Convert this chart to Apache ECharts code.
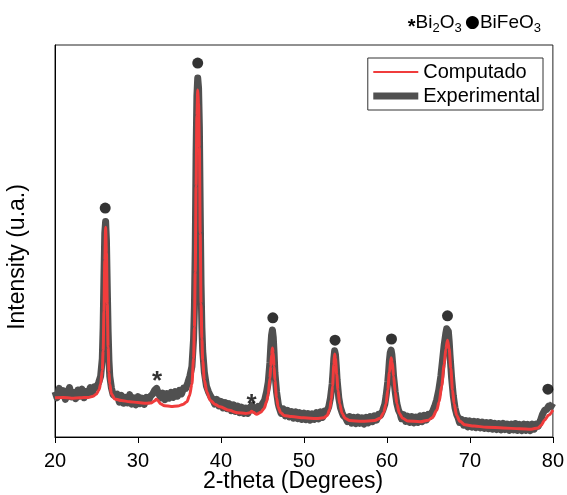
<!DOCTYPE html>
<html>
<head>
<meta charset="utf-8">
<script src="https://cdn.jsdelivr.net/npm/echarts@6/dist/echarts.min.js"></script>
<style>html,body{margin:0;padding:0;background:#fff}#c{width:567px;height:495px}</style>
</head>
<body>
<div id="c"></div>
<script>
// 2-theta ticks
const xTicks = [20, 30, 40, 50, 60, 70, 80];

// Computed pattern [2theta, intensity]
const computado = [[20,10.0],[21,10.1],[22,9.9],[23,10.0],[24,10.1],[24.6,10.4],[25.0,11.0],[25.3,12],[25.5,13.5],[25.7,17],[25.8,22],[25.9,32],[26.0,45],[26.1,53.5],[26.2,47],[26.3,34],[26.4,23],[26.5,16.5],[26.6,13.5],[26.8,11],[27.2,9.7],[28,9.3],[29,9.0],[30,8.8],[31,8.6],[31.6,8.7],[32.0,9.2],[32.2,9.6],[32.4,9.3],[32.7,8.5],[33.2,8.0],[34,7.8],[34.8,7.9],[35.4,8.3],[35.9,9.0],[36.2,10.5],[36.5,13.5],[36.7,20],[36.8,28],[36.9,42],[37.0,64],[37.1,82],[37.2,88.5],[37.3,85],[37.4,74],[37.5,52],[37.6,34],[37.7,25],[37.8,19.5],[38.0,14.5],[38.3,11.5],[38.7,9.4],[39.3,8.3],[39.9,7.7],[41,6.8],[42,6.2],[43,6.0],[43.5,6.2],[43.7,6.6],[43.9,6.3],[44.3,5.8],[44.8,6.3],[45.2,7.3],[45.5,9],[45.7,11],[45.9,15],[46.0,18],[46.1,21],[46.2,22.7],[46.3,21.5],[46.4,18],[46.5,14.5],[46.7,10],[46.9,7.6],[47.2,6.2],[47.6,5.5],[48.5,5.2],[50,4.9],[51.5,4.7],[52.4,4.9],[52.8,5.5],[53.1,7],[53.3,9.5],[53.45,13],[53.6,18.5],[53.7,21.2],[53.8,20],[53.95,16],[54.1,12],[54.3,8.5],[54.6,6],[55.0,4.7],[55.5,4.2],[57,4.0],[58.5,4.2],[59.2,4.8],[59.6,6.2],[59.9,8.5],[60.1,12],[60.3,16.5],[60.5,20.2],[60.65,19],[60.8,15.5],[61.0,11.5],[61.2,8.5],[61.5,6.0],[61.9,4.8],[62.5,4.1],[64,3.9],[65.0,4.3],[65.5,5.0],[66.0,6.8],[66.3,9],[66.6,13],[66.9,18.5],[67.1,22.5],[67.3,24.7],[67.5,22.5],[67.7,17.5],[67.9,12],[68.1,8.5],[68.4,5.5],[68.8,4.0],[69.4,3.1],[70.5,2.8],[72,2.5],[74,2.3],[76,2.1],[77.4,2.0],[78.2,2.3],[78.6,3.0],[79.0,4.3],[79.5,5.6],[80,6.9]];

// Experimental pattern [2theta, intensity]
const experimental = [[20.0,11.6],[20.25,10.0],[20.5,12.4],[20.75,10.6],[21.0,11.8],[21.25,9.6],[21.5,11.2],[21.75,12.6],[22.0,10.2],[22.25,11.4],[22.5,9.8],[22.75,12.0],[23.0,10.4],[23.25,12.2],[23.5,10.0],[23.75,11.6],[24.0,10.8],[24.25,12.6],[24.5,11.4],[24.75,12.8],[25.0,12.6],[25.25,13.8],[25.5,15.5],[25.7,20],[25.8,28],[25.9,41],[26.0,52],[26.1,55],[26.2,50],[26.3,38],[26.4,27],[26.5,19.5],[26.6,15.5],[26.8,12.5],[27.0,10.8],[27.25,10.4],[27.5,10.9],[27.75,8.9],[28.0,10.6],[28.25,8.6],[28.5,10.1],[28.75,8.7],[29.0,10.8],[29.25,8.4],[29.5,10.0],[29.75,8.2],[30.0,10.3],[30.25,8.5],[30.5,9.9],[30.75,8.3],[31.0,10.1],[31.25,9.2],[31.5,10.4],[31.75,10.9],[32.0,11.9],[32.25,12.4],[32.5,11.0],[32.75,10.0],[33.0,11.2],[33.25,9.5],[33.5,11.1],[33.75,9.9],[34.0,11.4],[34.25,10.1],[34.5,11.6],[34.75,10.4],[35.0,11.9],[35.25,11.0],[35.5,12.5],[35.75,12.4],[36.0,13.8],[36.25,15.5],[36.5,18],[36.7,25],[36.8,33],[36.9,48],[37.0,72],[37.1,87],[37.2,91.6],[37.3,89],[37.4,79],[37.5,58],[37.6,39],[37.7,28],[37.8,22],[38.0,16.5],[38.25,13],[38.5,11.5],[38.75,10.4],[39.0,9.6],[39.25,8.4],[39.5,9.6],[39.75,7.9],[40.0,9.1],[40.25,7.4],[40.5,8.8],[40.75,7.2],[41.0,8.5],[41.25,6.7],[41.5,8.2],[41.75,6.5],[42.0,7.9],[42.25,6.2],[42.5,7.6],[42.75,6.0],[43.0,7.4],[43.25,6.0],[43.5,7.6],[43.75,8.1],[44.0,6.8],[44.25,6.6],[44.5,7.8],[44.75,7.2],[45.0,8.5],[45.25,9.3],[45.5,11.5],[45.7,14],[45.9,19],[46.0,23],[46.1,26],[46.2,27.3],[46.3,25.5],[46.4,21.5],[46.5,16.5],[46.7,11.5],[46.9,8.5],[47.0,7.6],[47.25,6.0],[47.5,7.2],[47.75,5.4],[48.0,6.8],[48.25,5.1],[48.5,6.5],[48.75,4.8],[49.0,6.4],[49.25,4.7],[49.5,6.2],[49.75,4.5],[50.0,6.1],[50.25,4.4],[50.5,6.0],[50.75,4.3],[51.0,5.9],[51.25,4.5],[51.5,6.2],[51.75,4.6],[52.0,6.4],[52.25,5.0],[52.5,6.6],[52.75,6.4],[53.0,7.8],[53.2,10],[53.4,13.5],[53.5,16.5],[53.6,20],[53.7,22],[53.8,21],[53.9,18],[54.0,14.5],[54.2,10],[54.4,7.5],[54.6,6.2],[54.75,5.4],[55.0,5.0],[55.25,3.9],[55.5,5.2],[55.75,3.5],[56.0,5.0],[56.25,3.4],[56.5,5.1],[56.75,3.5],[57.0,4.9],[57.25,3.3],[57.5,5.0],[57.75,3.6],[58.0,5.2],[58.25,3.9],[58.5,5.4],[58.75,4.3],[59.0,5.8],[59.25,5.6],[59.5,6.8],[59.75,8.4],[59.9,10.5],[60.1,14],[60.2,16.5],[60.3,19.5],[60.4,21.5],[60.5,22.2],[60.6,21.0],[60.7,18.5],[60.8,15.5],[61.0,11.5],[61.2,8.5],[61.4,6.8],[61.6,5.9],[61.75,4.7],[62.0,5.7],[62.25,4.0],[62.5,5.3],[62.75,3.7],[63.0,5.2],[63.25,3.6],[63.5,5.1],[63.75,3.7],[64.0,5.4],[64.25,3.9],[64.5,5.5],[64.75,4.3],[65.0,5.8],[65.25,5.3],[65.5,6.5],[65.75,7.8],[66.0,9.5],[66.25,12],[66.5,15.5],[66.7,19.5],[66.9,23.5],[67.1,26.5],[67.2,27.6],[67.3,28.0],[67.4,27],[67.5,24.5],[67.6,21],[67.8,15],[68.0,10.5],[68.2,7.5],[68.4,5.8],[68.6,4.8],[68.75,3.7],[69.0,4.5],[69.25,3.0],[69.5,4.2],[69.75,2.6],[70.0,4.1],[70.25,2.5],[70.5,4.0],[70.75,2.4],[71.0,3.9],[71.25,2.3],[71.5,3.8],[71.75,2.2],[72.0,3.7],[72.25,2.1],[72.5,3.7],[72.75,2.0],[73.0,3.5],[73.25,1.9],[73.5,3.4],[73.75,1.8],[74.0,3.5],[74.25,1.9],[74.5,3.3],[74.75,1.7],[75.0,3.3],[75.25,1.8],[75.5,3.4],[75.75,1.7],[76.0,3.2],[76.25,1.6],[76.5,3.3],[76.75,1.7],[77.0,3.2],[77.25,1.6],[77.5,3.3],[77.75,2.0],[78.0,3.3],[78.25,2.8],[78.5,4.2],[78.75,5.8],[79.0,6.8],[79.25,7.0],[79.5,7.9],[79.75,7.7],[80.0,8.6]];

// Phase markers
const bifeo3Marks = [[26.05,58.4],[37.2,95.4],[46.25,30.4],[53.75,24.7],[60.55,25.0],[67.3,30.9],[79.4,12.2]];
const bi2o3Marks = [[32.3,15.8],[43.7,10.0]];

const FONT = '"Liberation Sans", Arial, sans-serif';
const chart = echarts.init(document.getElementById('c'));
chart.setOption({
  animation: false,
  backgroundColor: '#fff',
  textStyle: { fontFamily: FONT },
  grid: { left: 55, right: 12, top: 45, bottom: 58, show: true, borderColor: '#222', borderWidth: 1 },
  xAxis: {
    type: 'value', min: xTicks[0], max: xTicks[xTicks.length - 1], interval: 10,
    axisLine: { lineStyle: { color: '#000', width: 1 } },
    axisTick: { show: true, length: 6, lineStyle: { color: '#000' } },
    axisLabel: { fontSize: 20, color: '#000', margin: 14, fontFamily: FONT },
    splitLine: { show: false }
  },
  yAxis: {
    type: 'value', min: 0, max: 100,
    axisLine: { show: true, lineStyle: { color: '#000', width: 1 } },
    axisTick: { show: false }, axisLabel: { show: false }, splitLine: { show: false }
  },
  legend: {
    data: [
      { name: 'Computado', lineStyle: { width: 2 } },
      { name: 'Experimental', lineStyle: { width: 7 } }
    ],
    orient: 'vertical', right: 24, top: 58,
    borderColor: '#333', borderWidth: 1, borderRadius: 0,
    padding: [4, 3, 4, 2], itemGap: 4,
    itemWidth: 45, itemHeight: 14,
    itemStyle: { opacity: 0 },
    textStyle: { fontSize: 20, color: '#000', fontFamily: FONT }
  },
  graphic: [
    { type: 'text', x: 18, y: 257, rotation: Math.PI / 2,
      style: { text: 'Intensity (u.a.)', font: '23px ' + FONT, fill: '#000', align: 'center', verticalAlign: 'middle' } },
    { type: 'text', x: 293, y: 482,
      style: { text: '2-theta (Degrees)', font: '23px ' + FONT, fill: '#000', align: 'center', verticalAlign: 'middle' } },
    { type: 'text', x: 541, y: 23,
      style: {
        text: '{s|*}{n|Bi}{b|2}{n|O}{b|3} {d|●}{n|BiFeO}{b|3}',
        align: 'right', verticalAlign: 'middle',
        rich: {
          s: { fontSize: 20, fontWeight: 'bold', fontFamily: FONT, fill: '#000', padding: [9, 0, 0, 0] },
          n: { fontSize: 19, fontFamily: FONT, fill: '#000' },
          b: { fontSize: 13, fontFamily: FONT, fill: '#000', padding: [11, 0, 0, 0] },
          d: { fontSize: 17, fontFamily: '"DejaVu Sans"', fill: '#000' }
        }
      } }
  ],
  series: [
    { name: 'Experimental', type: 'line', data: experimental, symbol: 'none', z: 2,
      lineStyle: { color: '#505050', width: 7, join: 'round' }, itemStyle: { color: '#505050' } },
    { name: 'Computado', type: 'line', data: computado, symbol: 'none', z: 3,
      smooth: 0.3, smoothMonotone: 'x',
      lineStyle: { color: '#F03C3C', width: 3 }, itemStyle: { color: '#F03C3C' } },
    { name: 'BiFeO3', type: 'scatter', data: bifeo3Marks, symbol: 'circle', symbolSize: 11, z: 4,
      itemStyle: { color: '#000' } },
    { name: 'Bi2O3', type: 'scatter', data: bi2o3Marks, symbolSize: 1, z: 4,
      itemStyle: { color: 'rgba(0,0,0,0)' },
      label: { show: true, position: 'inside', formatter: '*', fontSize: 26, fontWeight: 'bold', color: '#000', offset: [0, 7], fontFamily: FONT } }
  ]
});
</script>
</body>
</html>
